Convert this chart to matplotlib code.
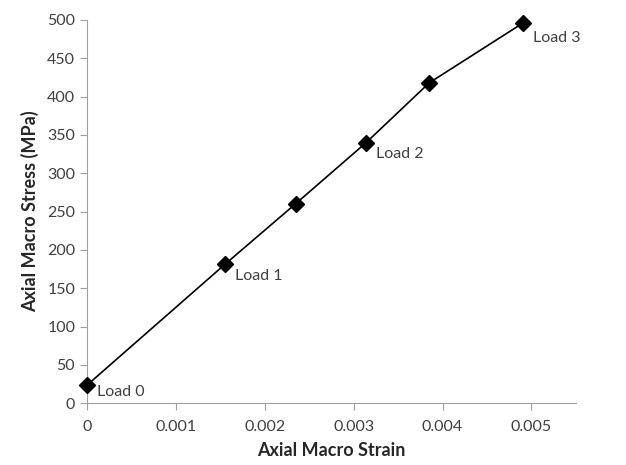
import matplotlib
matplotlib.use('Agg')
import matplotlib.pyplot as plt

plt.rcParams['font.family'] = ['Lato', 'DejaVu Sans']

strain = [0.0, 0.00155, 0.00235, 0.00314, 0.00385, 0.00491]
stress = [23.5, 181, 260.5, 340, 418, 496.5]
labels = ['Load 0', 'Load 1', '', 'Load 2', '', 'Load 3']
label_dy = [-8, -11, 0, -11, 0, -14]

fig = plt.figure(figsize=(6.26, 4.65), dpi=100)
ax = fig.add_axes([0.139, 0.133, 0.781, 0.824])

ax.plot(strain, stress, color='black', lw=1.2, marker='D', markersize=8,
        zorder=3, clip_on=False)
for x, y, t, dy in zip(strain, stress, labels, label_dy):
    if t:
        ax.annotate(t, (x, y), xytext=(7, dy), textcoords='offset points',
                    fontsize=11.5, color='#404040')

ax.set_xlim(0, 0.0055)
ax.set_ylim(0, 500)
ax.set_xticks([0, 0.001, 0.002, 0.003, 0.004, 0.005])
ax.set_xticklabels(['0', '0.001', '0.002', '0.003', '0.004', '0.005'])
ax.set_yticks(range(0, 501, 50))
for s in ['top', 'right']:
    ax.spines[s].set_visible(False)
for s in ['left', 'bottom']:
    ax.spines[s].set_color('#a0a0a0')
ax.tick_params(colors='#a0a0a0', labelcolor='#404040', labelsize=11.5, length=5)
ax.tick_params(axis='x', pad=7)
ax.set_xlabel('Axial Macro Strain', fontsize=13, fontweight='bold', color='#262626',
              labelpad=6)
ax.set_ylabel('Axial Macro Stress (MPa)', fontsize=13, fontweight='bold', color='#262626',
              labelpad=6)

fig.savefig('out.png', dpi=100)
